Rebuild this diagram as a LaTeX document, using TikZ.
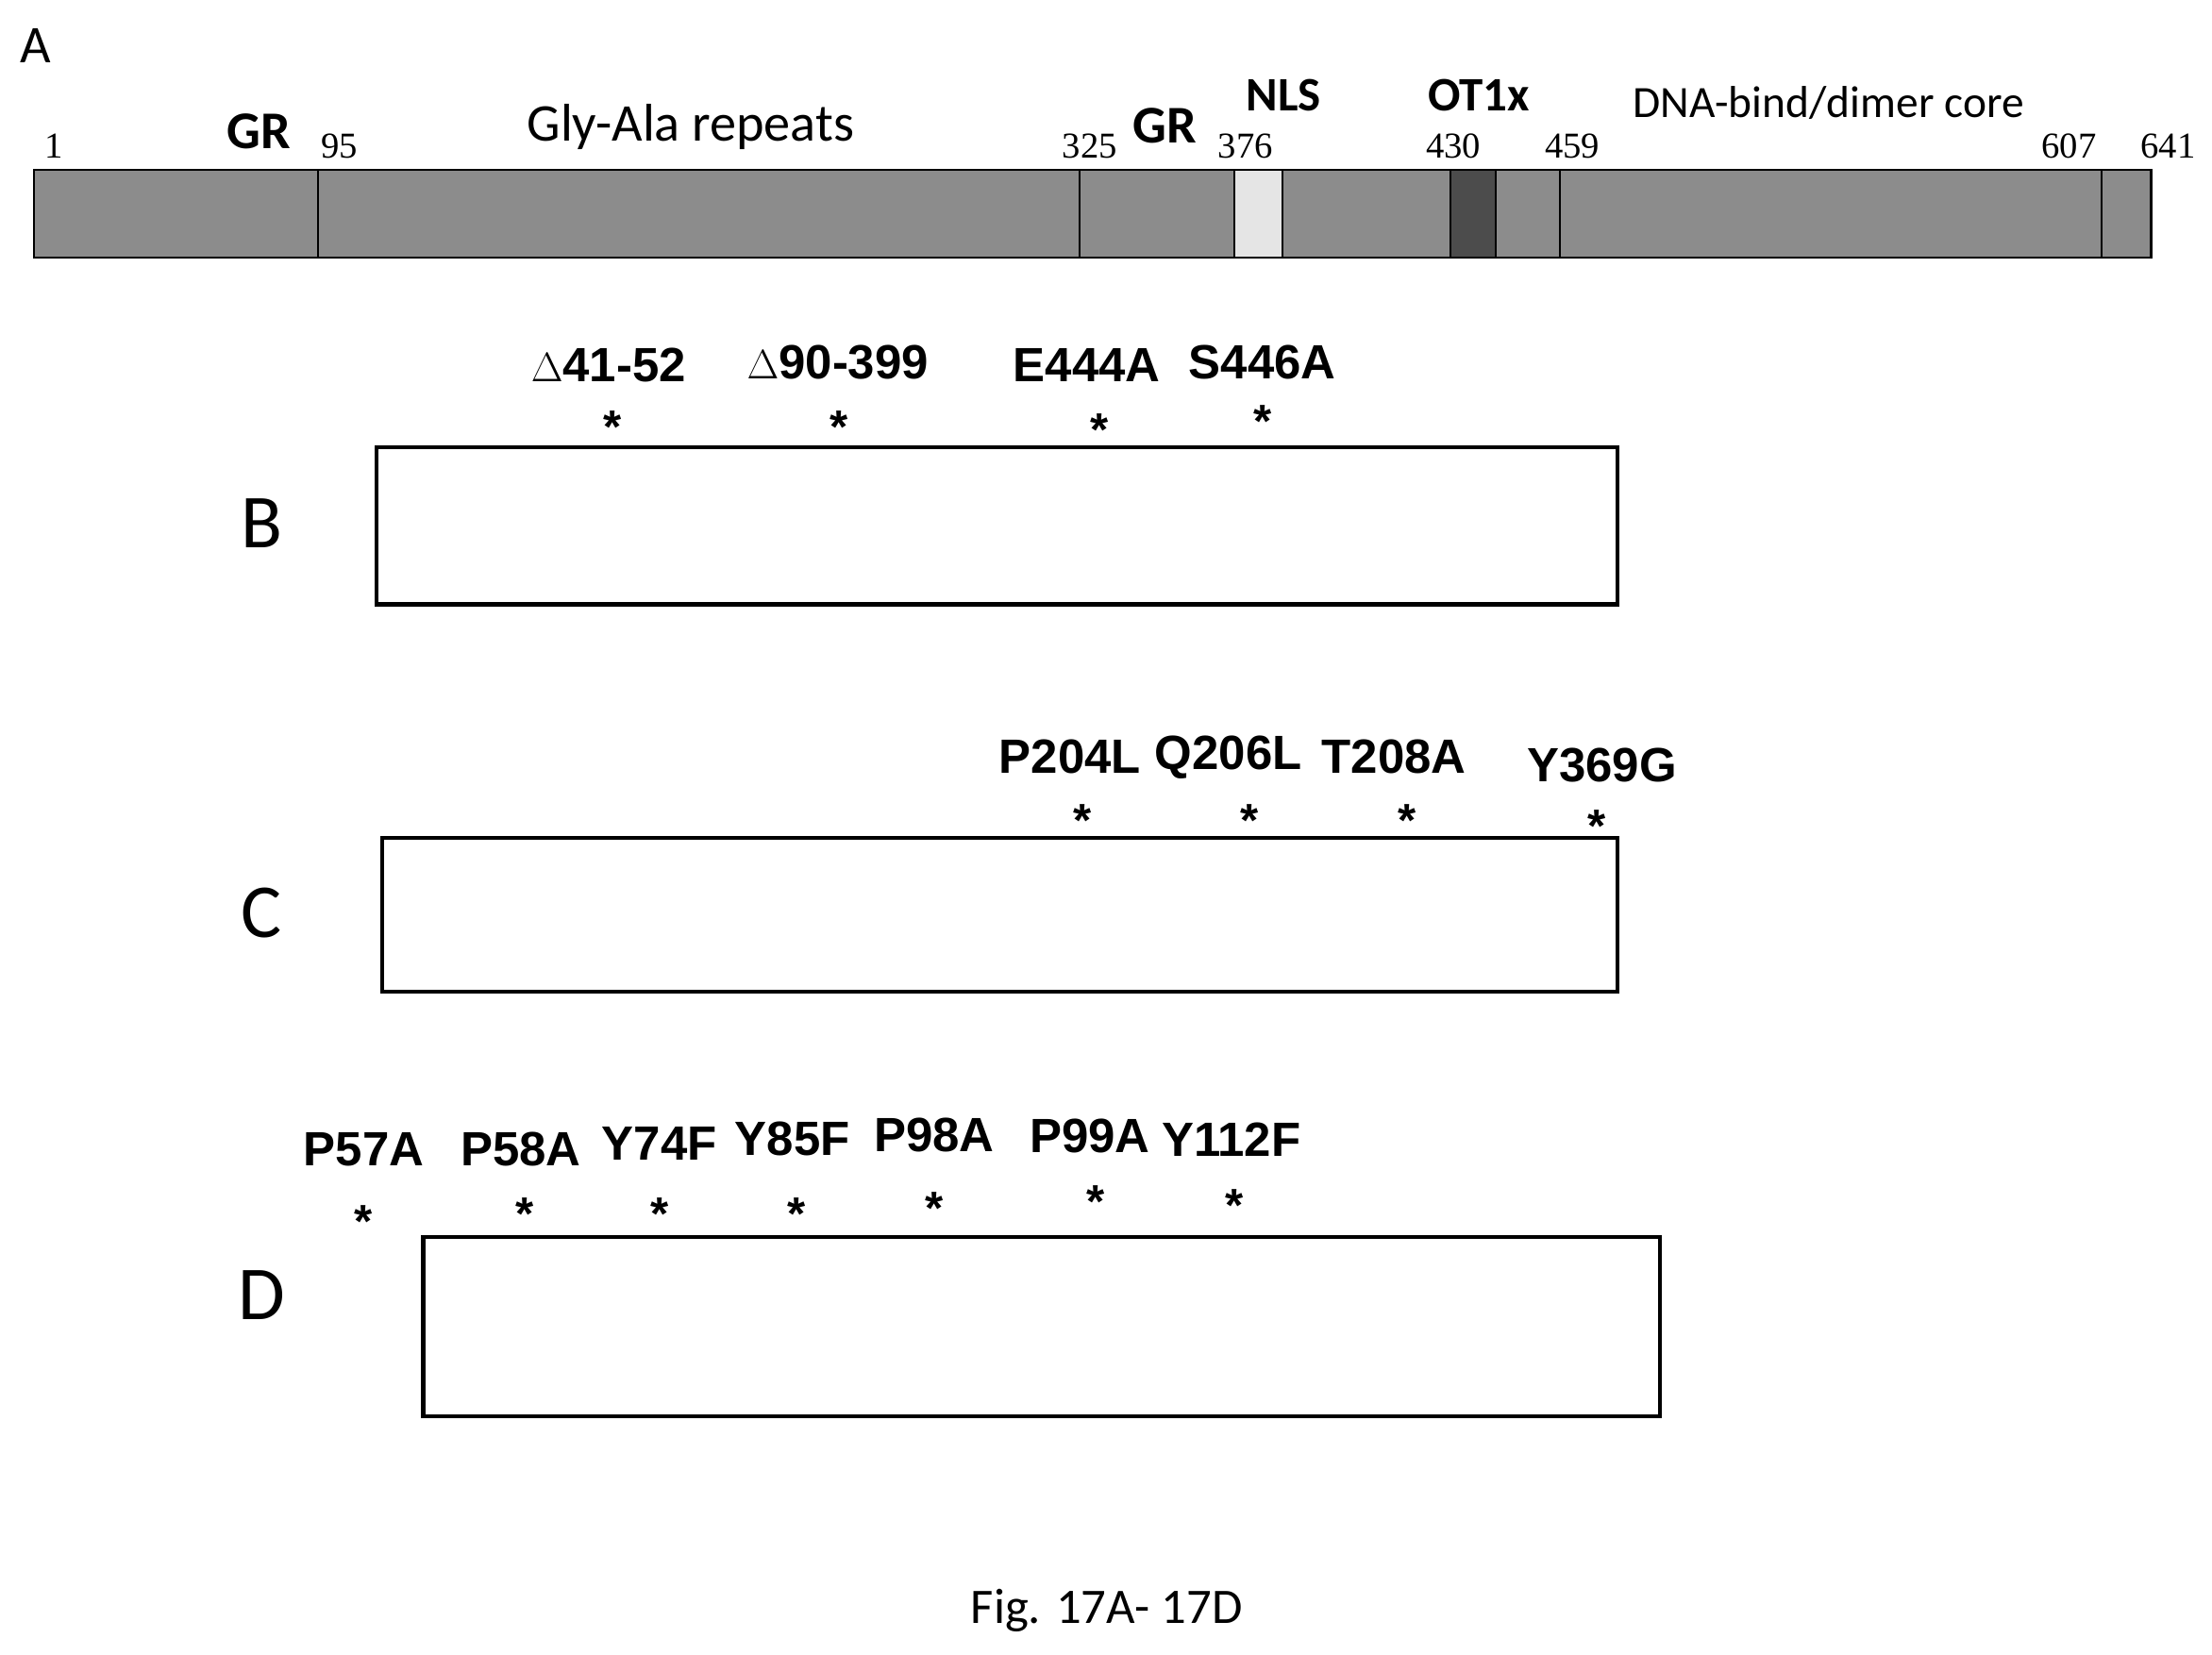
\documentclass[tikz,border=0pt]{standalone}
\usepackage{fontspec}
\setmainfont{Carlito}
\newfontfamily\arialf{Liberation Sans}
\newfontfamily\timesf{Liberation Serif}
\usepackage{tikz}

\begin{document}
\begin{tikzpicture}[x=0.03cm,y=-0.03cm,
  seg/.style={draw=black,line width=1.2pt,fill=black!45},
  num/.style={font=\timesf\fontsize{22}{22}\selectfont,inner sep=0},
  dom/.style={font=\bfseries\fontsize{32}{32}\selectfont,inner sep=0},
  txt/.style={font=\fontsize{32}{32}\selectfont,inner sep=0},
  mut/.style={font=\arialf\bfseries\fontsize{29}{29}\selectfont,inner sep=0},
  star/.style={font=\arialf\bfseries\fontsize{28}{28}\selectfont,inner sep=0},
  panel/.style={font=\fontsize{46}{46}\selectfont,inner sep=0},
  cons/.style={draw=black,line width=2.5pt,fill=white}]
\useasboundingbox (0,0) rectangle (1563,1169);
% panel A
\node[txt] (la) at (25,32) {A};
\draw[seg] (24,120) rectangle (1520,182);
\draw[seg,fill=black!10] (872,120) rectangle (906,182);
\draw[seg,fill=black!70] (1025,120) rectangle (1057,182);
\foreach \x in {225,763,1102,1485} \draw[line width=1.2pt] (\x,120) -- (\x,182);
\node[num] (n1) at (38,103) {1};
\node[num] (n95) at (240,103) {95};
\node[num] (n325) at (770,103) {325};
\node[num] (n376) at (880,103) {376};
\node[num] (n430) at (1027,103) {430};
\node[num] (n459) at (1111,103) {459};
\node[num] (n607) at (1462,103) {607};
\node[num] (n641) at (1532,103) {641};
\node[dom] (gr1) at (183,93) {GR};
\node[dom] (gr2) at (823,89) {GR};
\node[dom,font=\bfseries\fontsize{29}{29}\selectfont] (nls) at (907,67) {NLS};
\node[dom,font=\bfseries\fontsize{29}{29}\selectfont] (ot) at (1045,67) {OT1x};
\node[txt] (gly) at (488,90) {Gly-Ala repeats};
\node[txt,font=\fontsize{27}{27}\selectfont] (dna) at (1292,73) {DNA-bind/dimer core};
% panel B
\node[panel] (lb) at (185,370) {B};
\draw[cons] (266,316) rectangle (1143,427);
\foreach \x/\y/\t/\sx/\sy in {430/258/$\Delta$41-52/433/296, 592/256/$\Delta$90-399/593/296,
    768/258/E444A/777/298, 892/256/S446A/892/292}
  {\node[mut] at (\x,\y) {\t}; \node[star] at (\sx,\sy+6) {*};}
% panel C
\node[panel] (lc) at (185,645) {C};
\draw[cons] (270,592) rectangle (1143,701);
\foreach \x/\y/\t/\sx/\sy in {756/535/P204L/765/574, 868/535/Q206L/883/574,
    985/535/T208A/994/574, 1132/541/Y369G/1128/578}
  {\node[mut] at (\x,\y) {\t}; \node[star] at (\sx,\sy+6) {*};}
% panel D
\node[panel] (ld) at (185,915) {D};
\draw[cons] (299,874) rectangle (1173,1001);
\foreach \x/\y/\t/\sx/\sy in {257/812/P57A/257/857, 368/812/P58A/371/852, 466/808/Y74F/466/852,
    560/805/Y85F/563/852, 660/802/P98A/660/848, 770/803/P99A/774/843, 870/805/Y112F/872/846}
  {\node[mut] at (\x,\y) {\t}; \node[star] at (\sx,\sy+6) {*};}
\node[txt,font=\fontsize{30}{30}\selectfont] (cap) at (782,1138) {Fig. 17A- 17D};
\end{tikzpicture}
\end{document}
